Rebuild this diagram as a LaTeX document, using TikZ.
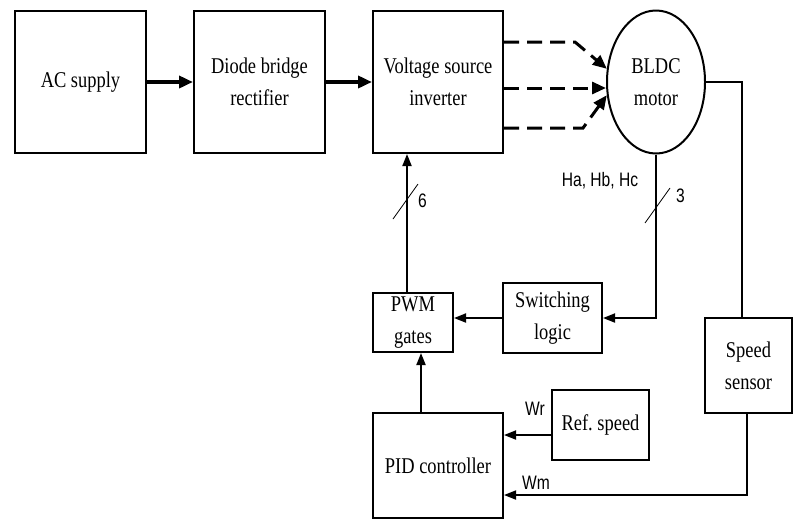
\documentclass[tikz,border=0pt]{standalone}
\usepackage{fontspec}
\setmainfont{Liberation Serif}[FakeStretch=0.82]
\newfontfamily\lblfont{Liberation Sans}[FakeStretch=0.8]
\usetikzlibrary{arrows.meta,shapes.geometric}
\frenchspacing
\begin{document}
\begin{tikzpicture}[x=1pt,y=-1pt,
  blk/.style={draw,line width=2pt,rectangle,inner sep=0pt,align=center,
    font=\fontsize{22.5}{32}\selectfont},
  mot/.style={draw,line width=2pt,ellipse,inner sep=0pt,align=center,
    font=\fontsize{22.5}{32}\selectfont},
  thk/.style={line width=3.5pt,-{Triangle[length=14pt,width=12pt]}},
  dsh/.style={line width=3pt,dash pattern=on 15pt off 8pt,-{Triangle[length=14pt,width=12pt]}},
  con/.style={line width=1.8pt},
  arr/.style={line width=1.8pt,-{Triangle[length=12pt,width=9pt]}},
  slash/.style={line width=0.8pt},
  lbl/.style={font=\lblfont\fontsize{19.5}{22}\selectfont,inner sep=0pt}]
\useasboundingbox (0,0) rectangle (794,520);
\node[blk,minimum width=131pt,minimum height=142pt] (ac) at (80.5,82) {AC supply};
\node[blk,minimum width=131pt,minimum height=142pt] (dio) at (259.5,82) {Diode bridge\\rectifier};
\node[blk,minimum width=130pt,minimum height=142pt] (vsi) at (438,82) {Voltage source\\inverter};
\node[mot,minimum width=98pt,minimum height=143pt] (mot) at (656,82) {BLDC\\motor};
\node[blk,minimum width=99pt,minimum height=70pt] (sw) at (552.5,318) {Switching\\logic};
\node[blk,minimum width=80pt,minimum height=59pt] (pwm) at (413,322.5) {PWM\\gates};
\node[blk,minimum width=130pt,minimum height=105pt] (pid) at (438,465.5) {PID controller};
\node[blk,minimum width=97pt,minimum height=70pt] (ref) at (600.5,425) {Ref. speed};
\node[blk,minimum width=87pt,minimum height=95pt] (spd) at (748.5,365.5) {Speed\\sensor};
% power path
\draw[thk] (ac.east) -- (dio.west);
\draw[thk] (dio.east) -- (vsi.west);
\coordinate (d1) at (575,42);
\coordinate (d3) at (583,128);
\draw[dsh] (vsi.east |- d1) -- (d1) -- (mot.165);
\draw[dsh] (vsi.east |- 0,88) -- (mot.west |- 0,88);
\draw[dsh] (vsi.east |- d3) -- (d3) -- (mot.195);
% hall sensor feedback
\coordinate (h1) at (656,318);
\draw[arr] (mot.south) -- (h1) -- (sw.east);
\draw[arr] (sw.west) -- (pwm.east |- sw.west);
\draw[arr] (pwm.north -| 407,0) -- (vsi.south -| 407,0);
\draw[arr] (pid.north -| 421,0) -- (pwm.south -| 421,0);
\coordinate (r1) at (552,435);
\draw[arr] (ref.west |- r1) -- (pid.east |- r1);
% speed feedback
\coordinate (s1) at (742,82);
\draw[con] (mot.east) -- (s1) -- (spd.north -| s1);
\coordinate (s2) at (747,495);
\draw[arr] (spd.south -| s2) -- (s2) -- (pid.east |- s2);
% bus slashes and labels
\coordinate (a6) at (393,219); \coordinate (b6) at (418,184);
\draw[slash] (a6) -- (b6);
\coordinate (a3) at (645,223); \coordinate (b3) at (670,188);
\draw[slash] (a3) -- (b3);
\node[lbl,anchor=west] (l6) at (418,201) {6};
\node[lbl,anchor=west] (l3) at (676,196) {3};
\node[lbl] (lh) at (600,181) {Ha, Hb, Hc};
\node[lbl] (lwr) at (535,409) {Wr};
\node[lbl] (lwm) at (536,483) {Wm};
\end{tikzpicture}
\end{document}
